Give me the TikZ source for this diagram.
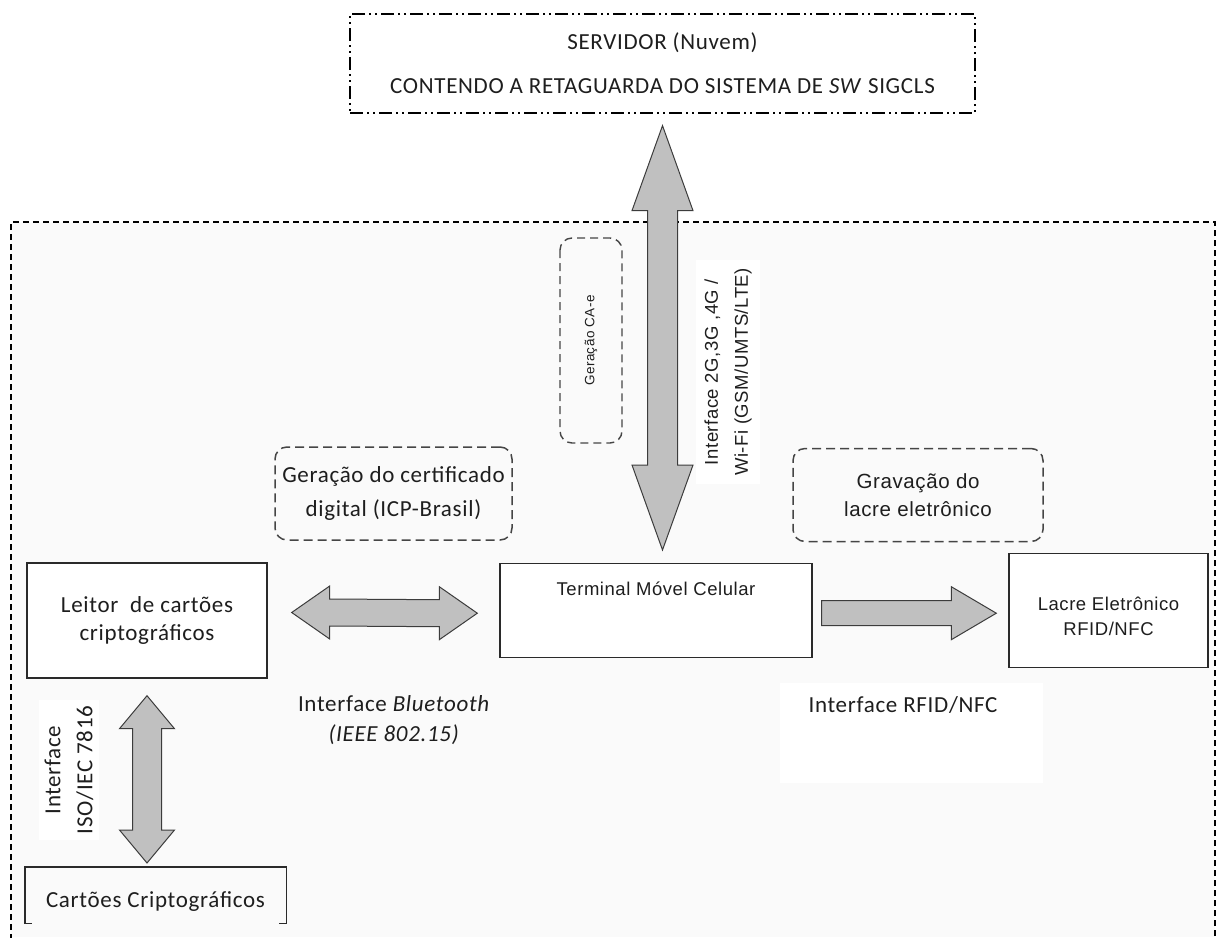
\documentclass[tikz,border=0pt]{standalone}
\usepackage{fontspec}
\setmainfont{Carlito}[LetterSpace=3]
\newfontfamily\arialf{Liberation Sans}[LetterSpace=3]
\usetikzlibrary{calc}

\definecolor{ink}{HTML}{1E1E1E}
\definecolor{boxline}{HTML}{2A2A2A}
\definecolor{arrowfill}{HTML}{C0C0C0}
\definecolor{arrowline}{HTML}{3C3C3C}
\definecolor{panel}{HTML}{FAFAFA}
\definecolor{noteline}{HTML}{454545}

% block arrows: #1,#2 end points, #3 half shaft, #4 half head, #5 head length
\newcommand\dblH[5]{%
  \draw[blockarrow] (#1) -- ++(#5,-#4) -- ++(0,#4-#3) -- ($(#2)+(-#5,-#3)$)
    -- ++(0,#3-#4) -- (#2) -- ++(-#5,#4) -- ++(0,#3-#4) -- ($(#1)+(#5,#3)$)
    -- ++(0,#4-#3) -- cycle;}
\newcommand\dblV[5]{%
  \draw[blockarrow] (#1) -- ++(-#4,#5) -- ++(#4-#3,0) -- ($(#2)+(-#3,-#5)$)
    -- ++(#3-#4,0) -- (#2) -- ++(#4,-#5) -- ++(#3-#4,0) -- ($(#1)+(#3,#5)$)
    -- ++(#4-#3,0) -- cycle;}
\newcommand\sglH[5]{%
  \draw[blockarrow] ($(#1)+(0,-#3)$) -- ($(#2)+(-#5,-#3)$) -- ++(0,#3-#4)
    -- (#2) -- ++(-#5,#4) -- ++(0,#3-#4) -- ($(#1)+(0,#3)$) -- cycle;}

\begin{document}
\begin{tikzpicture}[x=1pt,y=-1pt,
  solidbox/.style={draw=boxline, line width=1.4pt, fill=white, inner sep=0pt, align=center, text=ink},
  notebox/.style={draw=noteline, line width=1.5pt, dash pattern=on 9pt off 5pt, rounded corners=12pt, inner sep=0pt, align=center, text=ink},
  blockarrow/.style={draw=arrowline, fill=arrowfill, line width=1pt, line join=miter},
  txt/.style={text=ink, inner sep=0pt, align=center},
  cfont/.style={font=\fontsize{23}{28}\selectfont},
  afont/.style={font=\arialf\fontsize{18.5}{25}\selectfont},
]
\useasboundingbox (0,0) rectangle (1217,937);
\fill[white] (0,0) rectangle (1217,937);

% dashed region holding the field equipment
\fill[panel] (11,222) rectangle (1215,937);
\draw[black, line width=1.4pt, dash pattern=on 6pt off 4pt] (11,940) -- (11,222) -- (1215,222) -- (1215,940);
\fill[white] (780,683) rectangle (1043,783);

% server
\node[draw=black, line width=1.3pt, dash pattern=on 13pt off 4pt on 2pt off 4pt on 2pt off 4pt,
      minimum width=625pt, minimum height=99pt, inner sep=0pt, align=center, cfont, text=ink]
  (srv) at (662.5,63.5) {SERVIDOR (Nuvem)\\[16pt]CONTENDO A RETAGUARDA DO SISTEMA DE \textit{SW} SIGCLS};

% equipment boxes
\node[solidbox, cfont, minimum width=240pt, minimum height=115pt] (leitor) at (147,620.5)
  {Leitor\ \ de cartões\\criptográficos};
\node[solidbox, afont, anchor=north, minimum width=312pt, inner ysep=0pt, text height=31.5pt, text depth=62.5pt]
  (term) at (656,563) {Terminal Móvel Celular};
\node[solidbox, afont, anchor=north, minimum width=199pt, inner ysep=0pt, text height=82pt, text depth=32pt]
  (lacre) at (1108.5,553) {Lacre Eletrônico\\RFID/NFC};

% process notes
\node[notebox, cfont, minimum width=237pt, minimum height=93pt] (icp) at (393.5,493.5)
  {Geração do certificado\\[6pt]digital (ICP-Brasil)};
\node[notebox, font=\arialf\fontsize{20.5}{28}\selectfont, minimum width=250pt, minimum height=93pt] (grav) at (918,495)
  {Gravação do\\lacre eletrônico};
\node[notebox, line width=1.4pt, dash pattern=on 8pt off 5pt, rotate=90, font=\arialf\fontsize{13.5}{15}\selectfont,
      minimum width=205pt, minimum height=62pt] (cae) at (591,340.5) {Geração CA-e};

% smart cards (open-bottom frame)
\node[txt, cfont, anchor=north, minimum width=261pt, text height=40pt, text depth=16pt] (card) at (155.5,867)
  {Cartões Criptográficos};
\draw[boxline, line width=1.4pt] ([xshift=7pt]card.south west) -- (card.south west) -- (card.north west)
  -- (card.north east) -- (card.south east) -- ([xshift=-7pt]card.south east);

% interface labels
\node[txt, font=\arialf\fontsize{18.5}{30}\selectfont, rotate=90, fill=white, inner sep=8pt] (wanlbl) at (728,372)
  {Interface 2G,3G ,4G /\\Wi-Fi (GSM/UMTS/LTE)};
\node[txt, cfont, rotate=90, fill=white, inner sep=6pt] (isolbl) at (69,770) {Interface\\[4pt]ISO/IEC 7816};
\node[txt, cfont] (btlbl) at (394,720) {Interface \textit{Bluetooth}\\[2pt]\textit{(IEEE 802.15)}};
\node[txt, cfont] (rfidlbl) at (903,705) {Interface RFID/NFC};

% block arrows between components
\coordinate (vA) at ($(srv.south)+(0,12)$);
\coordinate (vB) at ($(srv.south |- term.north)+(0,-13)$);
\dblV{vA}{vB}{15}{30.5}{85}

\coordinate (bA) at ($(leitor.east)+(24,-8)$);
\coordinate (bB) at ($(term.west)+(-22,2.5)$);
\dblH{bA}{bB}{13.5}{26.5}{38}

\coordinate (rA) at ($(term.east)+(9,2.5)$);
\coordinate (rB) at ($(lacre.west)+(-12,2.5)$);
\sglH{rA}{rB}{12.5}{26.5}{45}

\coordinate (iA) at ($(leitor.south)+(0,17)$);
\coordinate (iB) at ($(leitor.south |- card.north)+(0,-4)$);
\dblV{iA}{iB}{14.5}{27.5}{33}
\end{tikzpicture}
\end{document}
